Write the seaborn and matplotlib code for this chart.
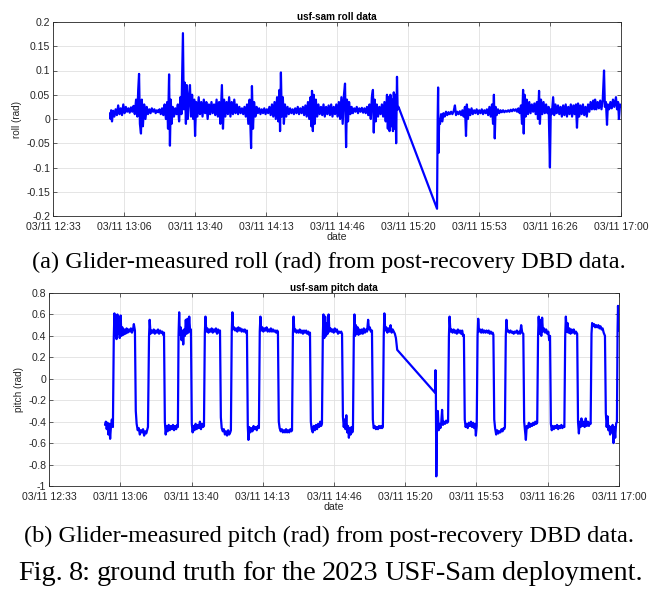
import matplotlib
matplotlib.use("Agg")
import matplotlib.pyplot as plt
import seaborn as sns
import pandas as pd

# ---- data (minutes after 03/11 12:33:20) ----
roll_t = [26.8, 27.0, 27.3, 27.7, 28.2, 28.8, 29.4, 30.0, 30.6, 31.2, 31.8, 32.4, 33.0, 33.6, 34.2, 34.8, 35.4, 36.0, 36.6, 37.2,
          37.8, 38.4, 39.0, 39.6, 40.0, 40.4, 40.8, 41.3, 41.7, 42.2, 42.8, 43.4, 44.0, 44.6, 45.2, 45.8, 46.4, 47.0, 47.6, 48.2,
          48.8, 49.4, 50.0, 50.6, 51.2, 51.8, 52.4, 53.0, 53.6, 54.0, 54.5, 54.9, 55.3, 55.7, 56.2, 56.8, 57.4, 58.0, 58.6, 59.2,
          59.8, 60.3, 61.0, 61.4, 61.9, 62.4, 62.8, 63.3, 63.8, 64.3, 64.8, 65.3, 65.8, 66.3, 66.7, 67.2, 67.8, 68.4, 69.0, 69.6,
          70.2, 70.8, 71.4, 72.0, 72.6, 73.2, 73.8, 74.4, 75.0, 75.6, 76.2, 76.8, 77.4, 78.0, 78.6, 79.3, 79.8, 80.3, 80.9, 81.5,
          82.1, 82.7, 83.3, 83.9, 84.5, 85.1, 85.7, 86.3, 86.9, 87.5, 88.1, 88.7, 89.3, 89.9, 90.5, 91.1, 91.7, 92.3, 93.0, 93.4,
          93.9, 94.4, 95.0, 95.6, 96.2, 96.8, 97.4, 98.0, 98.6, 99.2, 99.8, 100.4, 101.0, 101.6, 102.2, 102.8, 103.4, 104.0, 104.6, 105.2,
          105.8, 106.3, 106.6, 107.0, 107.4, 107.9, 108.4, 108.9, 109.5, 110.1, 110.7, 111.3, 111.9, 112.5, 113.1, 113.7, 114.3, 114.9, 115.5, 116.1,
          116.7, 117.3, 117.9, 118.5, 119.1, 119.7, 120.3, 120.9, 121.3, 121.6, 122.0, 122.4, 122.9, 123.4, 124.0, 124.6, 125.2, 125.8, 126.4, 127.0,
          127.6, 128.2, 128.8, 129.4, 130.0, 130.6, 131.2, 131.8, 132.4, 133.0, 133.6, 134.2, 134.8, 135.4, 136.0, 136.6, 137.1, 137.6, 138.0, 138.5,
          139.0, 139.6, 140.2, 140.8, 141.4, 142.0, 142.6, 143.2, 143.8, 144.4, 145.0, 145.6, 146.2, 146.8, 147.4, 148.0, 148.6, 149.2, 149.7, 150.2,
          150.6, 151.0, 151.5, 152.0, 152.6, 153.2, 153.8, 154.4, 155.0, 155.6, 156.2, 156.8, 157.2, 157.6, 158.0, 158.4, 158.8, 159.2, 159.6, 160.0,
          160.4, 160.8, 161.1, 161.5, 161.8, 162.2,
          180.3, 180.6, 180.8, 181.0, 181.3, 181.7, 182.2, 182.8, 183.3, 183.9, 184.5, 185.1, 185.7, 186.3, 186.9, 187.5, 188.1, 188.7, 189.2, 189.8,
          190.4, 191.0, 191.6, 192.2, 192.8, 193.4, 193.9, 194.3, 194.8, 195.3, 195.9, 196.5, 197.1, 197.7, 198.3, 198.9, 199.5, 200.1, 200.7, 201.3,
          201.9, 202.5, 203.1, 203.7, 204.3, 204.9, 205.5, 206.1, 206.6, 207.0, 207.4, 207.8, 208.3, 208.9, 209.5, 210.1, 210.7, 211.3, 211.9, 212.5,
          213.1, 213.7, 214.3, 214.9, 215.5, 216.1, 216.7, 217.3, 217.9, 218.5, 219.1, 219.7, 220.2, 220.7, 221.0, 221.4, 221.9, 222.4, 223.0, 223.6,
          224.2, 224.8, 225.4, 226.0, 226.6, 227.2, 227.7, 228.2, 228.6, 229.1, 229.7, 230.3, 230.9, 231.5, 232.1, 232.7, 233.3, 233.7, 234.2, 234.8,
          235.3, 235.9, 236.5, 237.1, 237.7, 238.3, 238.9, 239.5, 240.1, 240.7, 241.3, 241.9, 242.5, 243.1, 243.7, 244.3, 244.9, 245.5, 246.0, 246.5,
          247.0, 247.6, 248.2, 248.8, 249.4, 250.0, 250.6, 251.2, 251.8, 252.4, 253.0, 253.6, 254.2, 254.5, 255.1, 255.7, 256.3, 256.9, 257.5, 258.1,
          258.7, 259.1, 259.6, 260.1, 260.5, 261.1, 261.7, 262.3, 262.9, 263.5, 264.3, 264.8, 265.3, 265.7, 266.2, 266.6]
roll_v = [0.012, 0.0, 0.018, -0.005, 0.017, 0.005, 0.02, 0.008, 0.028, 0.01, 0.022, 0.008, 0.03, 0.012, 0.025, 0.015, 0.022, 0.013, 0.024, 0.015,
          0.027, 0.01, 0.04, 0.005, 0.06, 0.093, -0.01, -0.03, 0.04, -0.015, 0.03, 0.0, 0.025, 0.01, 0.02, 0.012, 0.022, 0.015, 0.02, 0.012,
          0.018, 0.014, 0.02, 0.01, 0.022, 0.008, 0.03, 0.0, 0.035, -0.02, 0.092, -0.055, 0.04, -0.01, 0.025, 0.005, 0.022, 0.01, 0.03, -0.005,
          0.045, 0.01, 0.177, 0.02, 0.075, -0.01, 0.07, 0.0, 0.045, 0.07, 0.005, 0.05, 0.0, 0.04, -0.035, 0.035, 0.005, 0.045, 0.01, 0.035,
          0.005, 0.04, 0.012, 0.035, 0.0, 0.03, 0.01, 0.035, 0.012, 0.03, 0.008, 0.04, 0.005, 0.035, -0.01, 0.07, -0.02, 0.04, 0.005, 0.035,
          0.01, 0.045, 0.005, 0.035, 0.01, 0.04, 0.012, 0.03, 0.01, 0.025, 0.012, 0.022, 0.01, 0.025, 0.005, 0.03, -0.01, 0.04, -0.06, 0.068,
          -0.02, 0.035, 0.005, 0.025, 0.012, 0.022, 0.01, 0.02, 0.012, 0.022, 0.01, 0.02, 0.012, 0.025, 0.008, 0.03, 0.005, 0.035, 0.0, 0.045,
          -0.005, 0.06, -0.025, 0.096, 0.005, 0.045, -0.01, 0.03, 0.005, 0.025, 0.01, 0.022, 0.012, 0.02, 0.01, 0.022, 0.012, 0.025, 0.01, 0.022,
          0.012, 0.025, 0.008, 0.028, 0.005, 0.035, 0.0, 0.045, -0.015, 0.058, -0.025, 0.05, -0.01, 0.04, 0.005, 0.03, 0.01, 0.025, 0.008, 0.03,
          0.005, 0.025, 0.01, 0.028, 0.008, 0.03, 0.005, 0.025, 0.01, 0.03, 0.005, 0.035, 0.0, 0.045, -0.01, 0.05, 0.073, -0.058, 0.04, -0.005,
          0.035, 0.01, 0.025, 0.012, 0.022, 0.015, 0.025, 0.012, 0.022, 0.015, 0.023, 0.013, 0.022, 0.012, 0.025, 0.008, 0.03, 0.0, 0.045, 0.06,
          -0.028, 0.04, -0.005, 0.03, 0.005, 0.025, 0.01, 0.03, 0.005, 0.035, -0.005, 0.05, -0.02, 0.045, -0.025, 0.05, -0.015, 0.04, -0.025, 0.055,
          -0.02, 0.05, -0.05, 0.087, 0.02, 0.025,
          -0.185, 0.0, 0.065, -0.07, 0.0, -0.01, 0.01, -0.005, 0.012, 0.005, 0.015, 0.008, 0.014, 0.01, 0.015, 0.01, 0.016, 0.028, 0.008, 0.015,
          0.01, 0.016, 0.008, 0.018, 0.005, 0.025, -0.035, 0.03, 0.0, 0.02, 0.008, 0.022, 0.01, 0.018, 0.012, 0.02, 0.01, 0.018, 0.012, 0.02,
          0.01, 0.018, 0.012, 0.02, 0.008, 0.025, 0.005, 0.03, -0.01, 0.05, -0.04, 0.025, 0.008, 0.02, 0.012, 0.018, 0.014, 0.018, 0.014, 0.017,
          0.015, 0.018, 0.015, 0.019, 0.016, 0.02, 0.017, 0.02, 0.015, 0.022, 0.012, 0.028, -0.01, 0.06, -0.03, 0.05, 0.005, 0.04, 0.01, 0.035,
          0.012, 0.03, 0.015, 0.032, 0.01, 0.035, 0.0, 0.058, -0.01, 0.04, 0.01, 0.035, 0.012, 0.03, 0.012, 0.025, -0.1, 0.02, 0.01, 0.045,
          0.008, 0.03, 0.012, 0.028, 0.01, 0.025, 0.005, 0.028, 0.008, 0.03, 0.005, 0.025, 0.01, 0.03, 0.005, 0.028, 0.01, 0.03, -0.018, 0.032,
          0.005, 0.028, 0.01, 0.03, 0.008, 0.025, 0.005, 0.03, 0.015, 0.035, 0.02, 0.038, 0.02, 0.04, 0.02, 0.035, 0.022, 0.038, 0.02, 0.04,
          0.1, 0.025, 0.035, -0.012, 0.03, 0.02, 0.035, 0.022, 0.04, 0.025, 0.045, 0.02, 0.035, 0.0, 0.03, 0.025]

pitch_t = [26.2, 26.6, 27.0, 27.4, 27.8, 28.2, 28.6, 29.0, 29.4, 29.9, 30.3, 30.6, 30.9, 31.3, 31.6, 32.0, 32.3, 32.7, 33.1, 33.5,
           33.9, 34.3, 34.8, 35.3, 35.8, 36.3, 36.8, 37.3, 37.8, 38.3, 38.8, 39.3, 39.7, 40.2, 40.6, 41.0, 41.5, 42.0, 42.5, 43.0,
           43.5, 44.0, 44.5, 45.0, 45.5, 46.0, 46.3, 46.8, 47.1, 47.5, 48.0, 48.5, 49.0, 49.5, 50.0, 50.5, 51.0, 51.5, 52.0, 52.5,
           53.0, 53.4, 53.8, 54.2, 54.6, 55.0, 55.5, 56.0, 56.5, 57.0, 57.5, 58.0, 58.5, 59.0, 59.5, 60.0, 60.3, 60.6, 60.9, 61.2,
           61.6, 62.0, 62.4, 62.8, 63.2, 63.6, 64.0, 64.4, 64.8, 65.2, 65.6, 66.0, 66.4, 66.8, 67.2, 67.6, 68.1, 68.6, 69.1, 69.6,
           70.1, 70.6, 71.1, 71.6, 72.1, 72.5, 72.9, 73.2, 73.6, 74.1, 74.6, 75.1, 75.6, 76.1, 76.6, 77.1, 77.6, 78.1, 78.6, 79.1,
           79.6, 80.0, 80.4, 80.8, 81.3, 81.8, 82.3, 82.8, 83.3, 83.8, 84.3, 84.8, 85.1, 85.5, 85.8, 86.1, 86.6, 87.1, 87.6, 88.1,
           88.6, 89.1, 89.6, 90.1, 90.6, 91.1, 91.6, 92.1, 92.6, 93.0, 93.3, 93.7, 94.2, 94.7, 95.2, 95.7, 96.2, 96.7, 97.2, 97.7,
           98.2, 98.6, 98.9, 99.3, 99.8, 100.3, 100.8, 101.3, 101.8, 102.3, 102.8, 103.3, 103.8, 104.3, 104.8, 105.3, 105.8, 106.3, 106.7, 107.1,
           107.5, 107.9, 108.4, 108.9, 109.4, 109.9, 110.4, 110.9, 111.4, 111.9, 112.4, 112.9, 113.4, 113.7, 114.1, 114.4, 114.8, 115.3, 115.8, 116.3,
           116.8, 117.3, 117.8, 118.3, 118.8, 119.3, 119.8, 120.3, 120.8, 121.3, 121.7, 122.1, 122.5, 122.9, 123.4, 123.9, 124.4, 124.9, 125.4, 125.9,
           126.4, 126.9, 127.3, 127.7, 128.1, 128.4, 128.8, 129.2, 129.6, 130.0, 130.4, 130.8, 131.2, 131.7, 132.2, 132.7, 133.2, 133.7, 134.2, 134.7,
           135.2, 135.7, 136.2, 136.7, 137.1, 137.5, 137.9, 138.3, 138.7, 139.1, 139.5, 139.9, 140.3, 140.7, 141.1, 141.5, 141.9, 142.2, 142.6, 142.9,
           143.2, 143.6, 144.0, 144.4, 144.8, 145.3, 145.8, 146.3, 146.8, 147.3, 147.8, 148.3, 148.8, 149.3, 149.7, 150.1, 150.6, 151.1, 151.5, 151.9,
           152.4, 152.9, 153.4, 153.9, 154.4, 154.9, 155.4, 155.8, 156.2, 156.6, 156.9, 157.3, 157.8, 158.3, 158.8, 159.3, 159.8, 160.3, 160.8, 161.3,
           161.8, 162.3, 162.9,
           180.6, 180.8, 181.0, 181.2, 181.5, 181.9, 182.3, 182.7, 183.1, 183.5, 183.9, 184.3, 184.8, 185.3, 185.8, 186.3, 186.7, 187.1, 187.4, 187.8,
           188.3, 188.8, 189.3, 189.8, 190.3, 190.8, 191.3, 191.8, 192.3, 192.8, 193.3, 193.7, 194.1, 194.5, 194.9, 195.4, 195.9, 196.4, 196.9, 197.4,
           197.9, 198.4, 198.9, 199.4, 199.7, 200.1, 200.5, 200.8, 201.2, 201.7, 202.2, 202.7, 203.2, 203.7, 204.2, 204.7, 205.2, 205.7, 206.2, 206.7,
           207.2, 207.6, 207.9, 208.3, 208.7, 209.2, 209.7, 210.2, 210.7, 211.2, 211.7, 212.2, 212.7, 213.0, 213.3, 213.7, 214.0, 214.4, 214.9, 215.4,
           215.9, 216.4, 216.9, 217.4, 217.9, 218.4, 218.9, 219.4, 219.9, 220.4, 220.9, 221.4, 221.9, 222.3, 222.7, 223.1, 223.5, 224.0, 224.5, 225.0,
           225.5, 226.0, 226.5, 227.0, 227.5, 228.0, 228.4, 228.8, 229.1, 229.5, 229.9, 230.3, 230.7, 231.1, 231.6, 232.1, 232.6, 233.1, 233.6, 234.0,
           234.4, 234.8, 235.2, 235.7, 236.2, 236.7, 237.2, 237.7, 238.2, 238.7, 239.2, 239.7, 240.2, 240.7, 241.1, 241.5, 241.8, 242.2, 242.6, 243.0,
           243.5, 244.0, 244.5, 245.0, 245.5, 246.0, 246.5, 247.1, 247.5, 247.9, 248.3, 248.7, 249.1, 249.6, 250.1, 250.6, 251.1, 251.6, 252.1, 252.6,
           253.0, 253.4, 253.8, 254.1, 254.5, 255.0, 255.5, 256.0, 256.5, 257.0, 257.5, 258.0, 258.5, 259.0, 259.5, 260.1, 260.5, 260.9, 261.3, 261.7,
           262.1, 262.5, 262.9, 263.3, 263.7, 264.1, 264.5, 264.9, 265.3, 265.7, 266.0, 266.2, 266.4, 266.6]
pitch_v = [-0.43, -0.40, -0.47, -0.41, -0.52, -0.42, -0.56, -0.44, -0.38, -0.45, 0.38, 0.61, 0.40, 0.55, 0.37, 0.60, 0.42, 0.50, 0.38, 0.59,
           0.40, 0.48, 0.41, 0.46, 0.42, 0.47, 0.43, 0.46, 0.44, 0.47, 0.43, 0.46, 0.51, 0.45, -0.30, -0.42, -0.48, -0.46, -0.52, -0.48,
           -0.50, -0.47, -0.53, -0.49, -0.51, -0.47, -0.45, 0.40, 0.55, 0.42, 0.45, 0.43, 0.46, 0.42, 0.45, 0.43, 0.46, 0.42, 0.45, 0.43,
           0.44, 0.41, 0.43, -0.40, -0.52, -0.44, -0.49, -0.43, -0.48, -0.44, -0.47, -0.43, -0.48, -0.44, -0.47, -0.43, -0.45, 0.40, 0.62, 0.41,
           0.48, 0.36, 0.45, 0.32, 0.46, 0.40, 0.55, 0.42, 0.56, 0.43, 0.58, 0.45, 0.46, -0.42, -0.50, -0.44, -0.48, -0.42, -0.47, -0.43,
           -0.46, -0.40, -0.47, -0.42, -0.45, -0.44, 0.42, 0.58, 0.44, 0.47, 0.43, 0.46, 0.44, 0.47, 0.43, 0.46, 0.44, 0.47, 0.42, 0.46,
           0.43, 0.45, -0.36, -0.46, -0.49, -0.47, -0.52, -0.49, -0.53, -0.48, -0.52, -0.50, -0.48, 0.45, 0.62, 0.46, 0.48, 0.45, 0.47, 0.44,
           0.48, 0.45, 0.47, 0.44, 0.46, 0.44, 0.46, 0.43, 0.45, -0.44, -0.57, -0.45, -0.50, -0.46, -0.49, -0.44, -0.47, -0.45, -0.48, -0.44,
           -0.46, 0.44, 0.58, 0.45, 0.48, 0.44, 0.47, 0.45, 0.48, 0.44, 0.46, 0.44, 0.47, 0.44, 0.46, 0.44, 0.45, 0.43, 0.45, 0.44,
           -0.40, -0.46, -0.49, -0.47, -0.50, -0.48, -0.50, -0.47, -0.50, -0.48, -0.50, -0.47, -0.49, -0.48, 0.42, 0.58, 0.44, 0.46, 0.43, 0.45,
           0.43, 0.46, 0.43, 0.45, 0.42, 0.45, 0.43, 0.45, 0.42, 0.44, 0.41, 0.43, -0.40, -0.47, -0.50, -0.44, -0.48, -0.43, -0.47, -0.42,
           -0.45, -0.40, -0.44, -0.42, 0.40, 0.60, 0.38, 0.58, 0.40, 0.52, 0.42, 0.60, 0.44, 0.47, 0.44, 0.46, 0.43, 0.47, 0.44, 0.46,
           0.42, 0.44, 0.43, 0.44, 0.42, -0.35, -0.45, -0.38, -0.47, -0.34, -0.50, -0.44, -0.55, -0.46, -0.52, -0.45, -0.50, -0.47, 0.40, 0.60,
           0.40, 0.50, 0.42, 0.48, 0.41, 0.46, 0.42, 0.46, 0.42, 0.47, 0.43, 0.46, 0.44, 0.55, 0.46, 0.48, 0.44, 0.45, -0.38, -0.46,
           -0.44, -0.47, -0.45, -0.47, -0.44, -0.46, -0.44, -0.46, -0.45, 0.40, 0.61, 0.45, 0.48, 0.43, 0.47, 0.44, 0.50, 0.43, 0.46, 0.44,
           0.42, 0.38, 0.27,
           -0.13, 0.08, -0.14, -0.91, -0.45, -0.30, -0.48, -0.42, -0.46, -0.41, -0.29, -0.43, -0.40, -0.42, -0.39, -0.41, -0.40, 0.40, 0.58, 0.44,
           0.46, 0.43, 0.46, 0.43, 0.45, 0.42, 0.46, 0.43, 0.45, 0.42, 0.45, 0.40, 0.41, -0.38, -0.45, -0.42, -0.46, -0.41, -0.44, -0.40,
           -0.45, -0.41, -0.46, -0.42, -0.53, -0.44, 0.40, 0.56, 0.44, 0.46, 0.43, 0.46, 0.43, 0.45, 0.43, 0.45, 0.43, 0.45, 0.42, 0.44,
           0.42, 0.43, 0.41, -0.38, -0.46, -0.52, -0.48, -0.51, -0.49, -0.50, -0.47, -0.49, -0.46, -0.47, -0.45, 0.40, 0.55, 0.44, 0.45, 0.43,
           0.45, 0.43, 0.44, 0.42, 0.44, 0.43, 0.45, 0.42, 0.44, 0.42, 0.50, 0.43, 0.42, -0.40, -0.48, -0.57, -0.44, -0.46, -0.41, -0.45,
           -0.42, -0.44, -0.41, -0.43, -0.40, -0.42, -0.41, 0.40, 0.58, 0.42, 0.55, 0.40, 0.57, 0.44, 0.47, 0.43, 0.46, 0.42, 0.44, 0.36,
           0.40, -0.42, -0.48, -0.44, -0.47, -0.44, -0.46, -0.43, -0.47, -0.44, -0.46, -0.43, -0.46, -0.44, -0.45, 0.40, 0.58, 0.44, 0.52, 0.43,
           0.47, 0.42, 0.46, 0.43, 0.46, 0.42, 0.44, 0.42, -0.40, -0.51, -0.40, -0.45, -0.37, -0.44, -0.40, -0.45, -0.37, -0.44, -0.40, -0.44,
           -0.41, -0.42, 0.42, 0.52, 0.49, 0.51, 0.48, 0.50, 0.48, 0.50, 0.47, 0.49, 0.46, 0.47, 0.43, 0.40, -0.32, -0.45, -0.35, -0.48,
           -0.44, -0.52, -0.45, -0.50, -0.43, -0.60, -0.45, -0.55, -0.42, -0.40, 0.45, 0.68, 0.55, 0.45]

x_tick_pos = [0, 33.333, 66.667, 100, 133.333, 166.667, 200, 233.333, 266.667]
x_tick_labels = ["03/11 12:33", "03/11 13:06", "03/11 13:40", "03/11 14:13", "03/11 14:46",
                 "03/11 15:20", "03/11 15:53", "03/11 16:26", "03/11 17:00"]
roll_ticks = [-0.2, -0.15, -0.1, -0.05, 0, 0.05, 0.1, 0.15, 0.2]
roll_tick_labels = ["-0.2", "-0.15", "-0.1", "-0.05", "0", "0.05", "0.1", "0.15", "0.2"]
pitch_ticks = [-1, -0.8, -0.6, -0.4, -0.2, 0, 0.2, 0.4, 0.6, 0.8]
pitch_tick_labels = ["-1", "-0.8", "-0.6", "-0.4", "-0.2", "0", "0.2", "0.4", "0.6", "0.8"]

caption_a = "(a) Glider-measured roll (rad) from post-recovery DBD data."
caption_b = "(b) Glider-measured pitch (rad) from post-recovery DBD data."
fig_caption = "Fig. 8: ground truth for the 2023 USF-Sam deployment."

sns.set_theme(style="whitegrid")
plt.rcParams['font.family'] = ['Liberation Sans', 'DejaVu Sans']

W, H = 651, 590
fig = plt.figure(figsize=(W / 100, H / 100), dpi=100)
fig.patch.set_facecolor("white")

txt = (0.15, 0.15, 0.15)


def style_axes(ax, yticks, ylabels, ylim, ylabel, title):
    ax.set_xlim(x_tick_pos[0], x_tick_pos[-1])
    ax.set_ylim(*ylim)
    ax.set_xticks(x_tick_pos)
    ax.set_xticklabels(x_tick_labels)
    ax.set_yticks(yticks)
    ax.set_yticklabels(ylabels)
    ax.tick_params(axis="both", direction="in", length=3, width=0.5, colors=txt,
                   labelsize=7.6, top=True, right=True, bottom=True, left=True)
    ax.tick_params(axis="x", pad=4.2)
    ax.tick_params(axis="y", pad=2)
    ax.grid(True, color=(0.88, 0.88, 0.88), linewidth=0.6)
    for s in ax.spines.values():
        s.set_color(txt)
        s.set_linewidth(0.6)
    ax.set_xlabel("date", fontsize=7.6, color=txt, labelpad=0)
    ax.set_ylabel(ylabel, fontsize=7.2, color=txt, labelpad=3)
    ax.set_title(title, fontsize=7.2, fontweight="bold", color="black", pad=1.8)


ax1 = fig.add_axes([53 / W, 1 - 216 / H, (621 - 53) / W, (216 - 22) / H])
df_roll = pd.DataFrame({"t": roll_t, "roll": roll_v})
sns.lineplot(data=df_roll, x="t", y="roll", ax=ax1, color=(0, 0, 1), linewidth=1.6,
             estimator=None, sort=False)
style_axes(ax1, roll_ticks, roll_tick_labels, (-0.2, 0.2), "roll (rad)", "usf-sam roll data")

ax2 = fig.add_axes([49 / W, 1 - 486 / H, (619 - 49) / W, (486 - 293) / H])
df_pitch = pd.DataFrame({"t": pitch_t, "pitch": pitch_v})
sns.lineplot(data=df_pitch, x="t", y="pitch", ax=ax2, color=(0, 0, 1), linewidth=1.6,
             estimator=None, sort=False)
style_axes(ax2, pitch_ticks, pitch_tick_labels, (-1, 0.8), "pitch (rad)", "usf-sam pitch data")

serif = ['Liberation Serif', 'DejaVu Serif']
fig.text(329 / W, 1 - 262 / H, caption_a, ha="center", va="center",
         fontsize=17.6, family=serif, color="black")
fig.text(329 / W, 1 - 536 / H, caption_b, ha="center", va="center",
         fontsize=17.6, family=serif, color="black")

# justified figure caption line (words spread between x0 and x1)
renderer = fig.canvas.get_renderer()
words = fig_caption.split(" ")
x0, x1, yc = 18, 643, 573
objs = [fig.text(0, 1 - yc / H, w, ha="left", va="center", fontsize=20.3,
                 family=serif, color="black") for w in words]
widths = [o.get_window_extent(renderer).width for o in objs]
gap = (x1 - x0 - sum(widths)) / (len(words) - 1)
xp = x0
for o, wd in zip(objs, widths):
    o.set_x(xp / W)
    xp += wd + gap

fig.savefig("out.png", dpi=100)
